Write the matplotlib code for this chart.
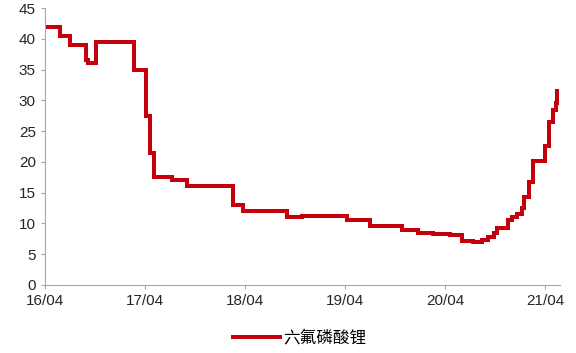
import numpy as np
import pandas as pd
import matplotlib.pyplot as plt
import matplotlib.dates as mdates

plt.rcParams['font.family'] = ['Liberation Sans', 'Noto Sans CJK SC', 'DejaVu Sans']

# price steps (wan yuan / ton), each value holds until the next date
dates = ['2016-04-01', '2016-05-25', '2016-07-01', '2016-08-28', '2016-09-05',
         '2016-10-05', '2017-02-22', '2017-04-05', '2017-04-20', '2017-05-05',
         '2017-07-10', '2017-09-01', '2018-02-15', '2018-03-25', '2018-09-01',
         '2018-10-25', '2019-04-08', '2019-07-01', '2019-10-25', '2019-12-25',
         '2020-02-15', '2020-04-20', '2020-06-01', '2020-07-12', '2020-08-15',
         '2020-09-05', '2020-09-25', '2020-10-08', '2020-11-15', '2020-12-01',
         '2020-12-20', '2021-01-05', '2021-01-15', '2021-02-01', '2021-02-15',
         '2021-04-01', '2021-04-15', '2021-05-01', '2021-05-10', '2021-05-14']
price = [42, 40.5, 39, 36.5, 36,
         39.5, 35, 27.5, 21.5, 17.5,
         17, 16, 13, 12, 11,
         11.2, 10.5, 9.5, 9, 8.5,
         8.3, 8.1, 7.2, 7.0, 7.3,
         7.8, 8.5, 9.2, 10.5, 11,
         11.6, 12.5, 14.3, 16.8, 20.2,
         22.6, 26.5, 28.4, 29.5, 31.6]
series_name = '六氟磷酸锂'

x = pd.to_datetime(dates)

fig = plt.figure(figsize=(5.76, 3.53), dpi=100)
ax = fig.add_axes([0.078, 0.193, 0.894, 0.784])

ax.plot(x, price, drawstyle='steps-post', color='#C3000C', lw=2.9,
        solid_joinstyle='miter', label=series_name)

ax.set_ylim(0, 45)
ax.set_yticks(np.arange(0, 46, 5))
ax.set_xlim(pd.Timestamp('2016-04-01'), pd.Timestamp('2021-05-25'))
ax.set_xticks(pd.to_datetime(['2016-04-01', '2017-04-01', '2018-04-01',
                              '2019-04-01', '2020-04-01', '2021-04-01']))
ax.xaxis.set_major_formatter(mdates.DateFormatter('%y/%m'))

for s in ['top', 'right']:
    ax.spines[s].set_visible(False)
for s in ['left', 'bottom']:
    ax.spines[s].set_color('#A6A6A6')
ax.tick_params(axis='both', colors='#A6A6A6', labelcolor='#262626',
               labelsize=11, length=3)

fig.legend(loc='lower center', bbox_to_anchor=(0.52, -0.025), frameon=False,
           handlelength=2.8, handletextpad=0.2,
           prop={'family': ['Noto Sans CJK SC', 'DejaVu Sans'], 'size': 12})

fig.savefig('out.png', dpi=100)
